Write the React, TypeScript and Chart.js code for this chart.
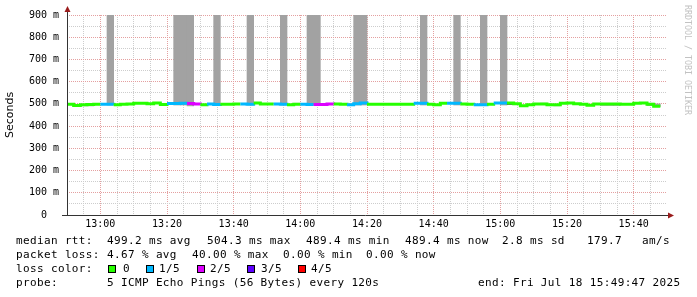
import React, { useEffect, useRef } from 'react';
import { Chart, registerables } from 'chart.js';

Chart.register(...registerables);

// Time axis: minutes since midnight, 12:50 .. 15:50, one sample every 120 s
const START_MIN = 770;
const END_MIN = 950;
const STEP_MIN = 2;

// Median RTT per 120 s step (ms)
const medianMs = [
  498, 493, 496, 497, 498, 498, 498, 496, 498, 500,
  503, 503, 501, 503.5, 497, 502, 502, 502.5, 502, 499,
  496, 500, 497, 498, 498, 500, 500, 498, 503.5, 500,
  500, 500, 498, 496, 498, 498, 497, 497, 497, 500,
  499, 498, 496.5, 501, 504.3, 498, 498, 498, 498, 498,
  498, 498, 503, 503, 498, 496.5, 503, 503, 503, 500,
  498, 496.5, 496.5, 498, 504, 504, 504, 501, 492, 496.5,
  499.5, 499.5, 496.5, 496.5, 502.5, 504, 501, 498, 493.5, 499.5,
  499.5, 499.5, 499.5, 498, 498, 502.5, 504, 498, 489.4,
];

// Lost pings (out of 5) per step -> index into lossColors
const lossIdx = [
  0, 0, 0, 0, 0, 1, 1, 0, 0, 0,
  0, 0, 0, 0, 0, 1, 1, 1, 2, 2,
  0, 1, 1, 0, 0, 0, 1, 1, 0, 0,
  0, 1, 1, 0, 0, 1, 1, 2, 2, 2,
  0, 0, 1, 1, 1, 0, 0, 0, 0, 0,
  0, 0, 1, 1, 0, 0, 0, 1, 1, 0,
  0, 1, 1, 0, 1, 1, 0, 0, 0, 0,
  0, 0, 0, 0, 0, 0, 0, 0, 0, 0,
  0, 0, 0, 0, 0, 0, 0, 0, 0,
];

// Smoke (ping spread) per step, ms
const smokeLow = [
  null, null, 491, 491, null, null, 495, null, null, null,
  null, null, null, null, null, null, 495, 495, 491, null,
  null, null, 495, null, null, null, null, 495, null, null,
  null, null, 495, null, 498, null, 495, 495, null, null,
  null, null, null, 495, 495, 498, 498, 498, 499, 499,
  null, null, null, 495, null, null, null, null, 495, null,
  null, null, 495, null, null, 495, 497, null, null, null,
  null, 500, null, 491, null, null, null, null, null, null,
  493, 493, 493, null, null, null, null, 492, 488,
];
const smokeHigh = [
  null, null, 498, 498, null, null, 900, null, null, null,
  null, null, null, null, null, null, 900, 900, 900, null,
  null, null, 900, null, null, null, null, 900, null, null,
  null, null, 900, null, 503, null, 900, 900, null, null,
  null, null, null, 900, 900, 501, 501, 501, 502, 502,
  null, null, null, 900, null, null, null, null, 900, null,
  null, null, 900, null, null, 900, 500, null, null, null,
  null, 503, null, 497, null, null, null, null, null, null,
  498, 498, 498, null, null, null, null, 503, 500,
];
const darkSmokeSteps = [48, 49, 66, 71];

const lossLabels = ['0', '1/5', '2/5', '3/5', '4/5'];
const lossColors = ['#26ff00', '#00b8ff', '#dd00ff', '#5e00ff', '#ff0000'];

const rttStats = [
  ['median rtt:', 16],
  ['499.2 ms avg', 107],
  ['504.3 ms max', 207],
  ['489.4 ms min', 306],
  ['489.4 ms now', 405],
  ['2.8 ms sd', 502],
  ['179.7', 587],
  ['am/s', 642],
] as const;
const lossStats = [
  ['packet loss:', 16],
  ['4.67 % avg', 107],
  ['40.00 % max', 192],
  ['0.00 % min', 283],
  ['0.00 % now', 366],
] as const;
const probeLine = [
  ['probe:', 16],
  ['5 ICMP Echo Pings (56 Bytes) every 120s', 107],
  ['end: Fri Jul 18 15:49:47 2025', 478],
] as const;
const legendBoxX = [108, 146, 197, 247, 298];
const legendLabelX = [123, 159, 210, 261, 311];

const MAJOR = '#e4a0a0';
const MINOR = '#cdcdcd';
const SMOKE = '#a2a2a2';
const SMOKE_DARK = '#585858';

const fmtTime = (v: number) => `${Math.floor(v / 60)}:${String(v % 60).padStart(2, '0')}`;

const axisPlugin = {
  id: 'rrdAxes',
  afterDatasetsDraw(chart: any) {
    const { ctx, chartArea: a } = chart;
    const x0 = Math.round(a.left) + 0.5;
    const y0 = Math.round(a.bottom) + 0.5;
    ctx.save();
    ctx.strokeStyle = '#333';
    ctx.lineWidth = 1;
    ctx.beginPath();
    ctx.moveTo(x0, y0);
    ctx.lineTo(x0, a.top - 4);
    ctx.moveTo(a.left - 5, y0);
    ctx.lineTo(a.right + 2, y0);
    ctx.stroke();
    ctx.fillStyle = '#9a1c1c';
    ctx.beginPath();
    ctx.moveTo(x0, a.top - 9);
    ctx.lineTo(x0 - 3, a.top - 3);
    ctx.lineTo(x0 + 3, a.top - 3);
    ctx.closePath();
    ctx.fill();
    ctx.beginPath();
    ctx.moveTo(a.right + 7, y0);
    ctx.lineTo(a.right + 1, y0 - 3);
    ctx.lineTo(a.right + 1, y0 + 3);
    ctx.closePath();
    ctx.fill();
    ctx.restore();
  },
};

const textBase: React.CSSProperties = {
  position: 'absolute',
  fontFamily: '"DejaVu Sans Mono", monospace',
  fontSize: 11,
  letterSpacing: '0.36px',
  lineHeight: '14px',
  whiteSpace: 'pre',
  color: '#000',
  margin: 0,
};

export default function App() {
  const canvasRef = useRef<HTMLCanvasElement | null>(null);

  useEffect(() => {
    const canvas = canvasRef.current;
    if (!canvas) return;
    const stepStarts = medianMs.map((_, i) => START_MIN + i * STEP_MIN);
    const linePoints = medianMs.map((v, i) => ({ x: stepStarts[i], y: v }));
    linePoints.push({ x: START_MIN + medianMs.length * STEP_MIN, y: medianMs[medianMs.length - 1] });
    const smokePoints = smokeLow.map((lo, i) => ({
      x: stepStarts[i] + STEP_MIN / 2,
      y: lo === null || smokeHigh[i] === null ? null : [lo, smokeHigh[i]],
    }));
    const smokeColors = smokeLow.map((_, i) => (darkSmokeSteps.includes(i) ? SMOKE_DARK : SMOKE));

    const gridX = (v: number) =>
      v === START_MIN || v === END_MIN ? 'rgba(0,0,0,0)' : v % 20 === 0 ? MAJOR : MINOR;
    const gridY = (v: number) => (v === 0 ? 'rgba(0,0,0,0)' : v % 100 === 0 ? MAJOR : MINOR);

    const chart = new Chart(canvas, {
      type: 'bar',
      data: {
        datasets: [
          {
            type: 'line',
            data: linePoints as any,
            stepped: 'before',
            borderWidth: 3,
            pointRadius: 0,
            fill: false,
            borderColor: lossColors[0],
            segment: { borderColor: (c: any) => lossColors[lossIdx[c.p0DataIndex]] },
            order: 0,
          } as any,
          {
            type: 'bar',
            data: smokePoints as any,
            backgroundColor: smokeColors,
            borderWidth: 0,
            barPercentage: 1,
            categoryPercentage: 1,
            order: 1,
          } as any,
        ],
      },
      options: {
        animation: false,
        responsive: false,
        maintainAspectRatio: false,
        layout: { padding: { left: 0, right: 30, top: 15, bottom: 62 } },
        plugins: { legend: { display: false }, tooltip: { enabled: false }, title: { display: false } },
        scales: {
          x: {
            type: 'linear',
            min: START_MIN,
            max: END_MIN,
            offset: false,
            ticks: {
              stepSize: 5,
              autoSkip: false,
              maxRotation: 0,
              padding: 3,
              color: '#000',
              font: { family: '"DejaVu Sans Mono", monospace', size: 10 },
              callback: (v: any) => (Number(v) % 20 === 0 ? fmtTime(Number(v)) : ''),
            },
            grid: {
              color: (c: any) => gridX(c.tick ? c.tick.value : 0),
              lineWidth: 1,
              drawTicks: false,
              offset: false,
            },
            border: { display: false, dash: [1, 1] },
            afterFit: (s: any) => {
              s.height = 20;
            },
          },
          y: {
            type: 'linear',
            min: 0,
            max: 900,
            ticks: {
              stepSize: 50,
              autoSkip: false,
              padding: 8,
              color: '#000',
              font: { family: '"DejaVu Sans Mono", monospace', size: 10 },
              callback: (v: any) => {
                const n = Number(v);
                if (n === 0) return '0  ';
                return n % 100 === 0 ? `${n} m` : '';
              },
            },
            grid: {
              color: (c: any) => gridY(c.tick ? c.tick.value : 0),
              lineWidth: 1,
              drawTicks: false,
            },
            border: { display: false, dash: [1, 1] },
            title: {
              display: true,
              text: 'Seconds',
              color: '#000',
              font: { family: '"DejaVu Sans", sans-serif', size: 11 },
              padding: { top: 4, bottom: 0 },
            },
            afterFit: (s: any) => {
              s.width = 67;
            },
          },
        },
      } as any,
      plugins: [axisPlugin],
    });
    return () => chart.destroy();
  }, []);

  return (
    <div style={{ position: 'fixed', left: 0, top: 0, width: 697, height: 297, background: '#fff' }}>
      <canvas ref={canvasRef} width={697} height={297} style={{ position: 'absolute', left: 0, top: 0 }} />
      <div
        style={{
          position: 'absolute',
          left: 683,
          top: 5,
          writingMode: 'vertical-rl',
          fontFamily: '"DejaVu Sans Mono", monospace',
          fontSize: 8.3,
          color: '#c2c2c2',
          whiteSpace: 'pre',
          lineHeight: '10px',
        }}
      >
        RRDTOOL / TOBI OETIKER
      </div>
      {rttStats.map(([t, x]) => (
        <span key={'r' + t} style={{ ...textBase, left: x, top: 234 }}>{t}</span>
      ))}
      {lossStats.map(([t, x]) => (
        <span key={'l' + t} style={{ ...textBase, left: x, top: 248 }}>{t}</span>
      ))}
      <span style={{ ...textBase, left: 16, top: 262 }}>loss color:</span>
      {lossLabels.map((t, i) => (
        <React.Fragment key={'lg' + t}>
          <span
            style={{
              position: 'absolute',
              left: legendBoxX[i],
              top: 265,
              width: 8,
              height: 8,
              boxSizing: 'border-box',
              border: '1px solid #000',
              background: lossColors[i],
            }}
          />
          <span style={{ ...textBase, left: legendLabelX[i], top: 262 }}>{t}</span>
        </React.Fragment>
      ))}
      {probeLine.map(([t, x]) => (
        <span key={'p' + t} style={{ ...textBase, left: x, top: 276 }}>{t}</span>
      ))}
    </div>
  );
}
